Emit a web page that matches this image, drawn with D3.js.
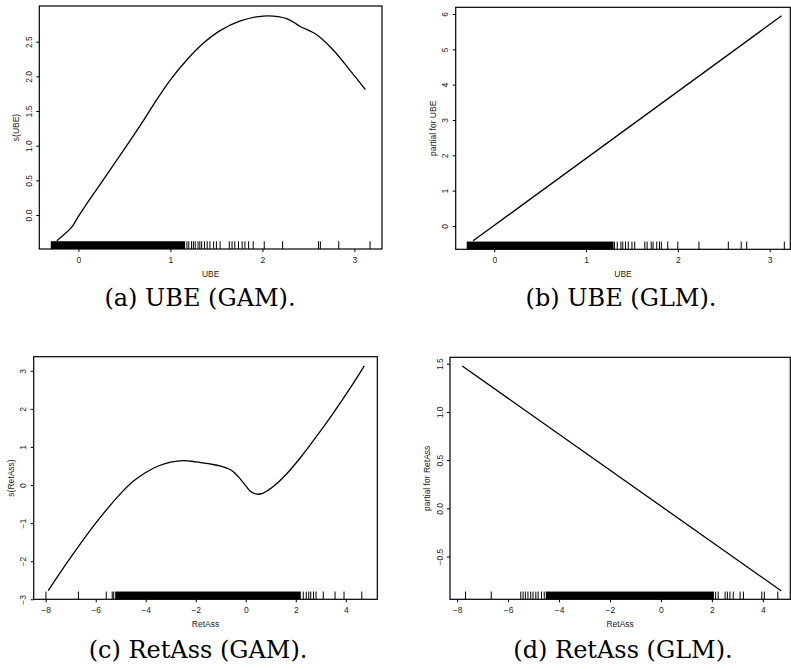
<!DOCTYPE html>
<html>
<head>
<meta charset="utf-8">
<script src="https://cdn.jsdelivr.net/npm/d3@7/dist/d3.min.js"></script>
<style>
  body { margin: 0; background: #fff; }
  svg { display: block; }
</style>
</head>
<body>
<svg id="chart" width="791" height="669"></svg>
<script>
// smooth term for UBE (GAM)
const ubeGamX = [-0.235, -0.07, 0, 0.11, 0.24, 0.38, 0.56, 0.71, 0.82, 1.0, 1.18, 1.36, 1.54, 1.76, 2.01, 2.27, 2.41, 2.59, 2.77, 2.95, 3.12];
const ubeGamY = [-0.37, -0.17, -0.02, 0.2, 0.45, 0.72, 1.07, 1.37, 1.6, 1.95, 2.24, 2.48, 2.66, 2.80, 2.87, 2.83, 2.72, 2.60, 2.38, 2.09, 1.81];

// linear term for UBE (GLM)
const ubeGlmX = [-0.23, 3.13];
const ubeGlmY = [-0.42, 5.95];

// smooth term for RetAss (GAM)
const retGamX = [-7.9, -7.0, -6.0, -5.0, -4.5, -4.0, -3.5, -3.0, -2.5, -2.0, -1.5, -1.0, -0.6, -0.3, 0.0, 0.2, 0.45, 0.7, 1.1, 1.6, 2.2, 2.8, 3.5, 4.2, 4.74];
const retGamY = [-2.77, -1.9, -1.0, -0.22, 0.1, 0.33, 0.5, 0.6, 0.64, 0.61, 0.56, 0.5, 0.4, 0.22, -0.02, -0.17, -0.24, -0.21, -0.04, 0.27, 0.73, 1.25, 1.89, 2.57, 3.13];

// linear term for RetAss (GLM)
const retGlmX = [-7.8, 4.72];
const retGlmY = [1.476, -0.855];

// rugs: solid dense stretch + single ticks outside it
const ubeBandGam = [-0.30, 1.16];
const ubeRugGam = [1.18, 1.2, 1.23, 1.25, 1.27, 1.3, 1.32, 1.34, 1.37, 1.4, 1.43, 1.47, 1.5, 1.54, 1.64, 1.67, 1.7, 1.74, 1.78, 1.81, 1.85, 1.9, 2.02, 2.22, 2.61, 2.63, 2.83, 3.17];
const ubeBandGlm = [-0.30, 1.30];
const ubeRugGlm = [1.31, 1.34, 1.38, 1.4, 1.43, 1.46, 1.5, 1.53, 1.64, 1.665, 1.71, 1.73, 1.77, 1.8, 1.82, 1.89, 2.0, 2.23, 2.55, 2.69, 2.75, 3.16];
const retBandGam = [-5.22, 2.2];
const retRugGam = [-7.99, -6.69, -5.58, -5.34, -5.28, 2.3, 2.42, 2.52, 2.6, 2.71, 2.81, 3.1, 3.57, 3.93, 4.64];
const retBandGlm = [-4.52, 2.08];
const retRugGlm = [-7.67, -6.66, -5.5, -5.41, -5.32, -5.22, -5.11, -5.02, -4.91, -4.82, -4.69, -4.58, 2.15, 2.25, 2.52, 2.61, 2.71, 2.84, 3.11, 3.24, 3.96, 4.06, 4.59];

// tick values
const ubeTicks = [0, 1, 2, 3];
const retTicks = [-8, -6, -4, -2, 0, 2, 4];
const ubeGamYTicks = [0, 0.5, 1, 1.5, 2, 2.5];
const ubeGlmYTicks = [0, 1, 2, 3, 4, 5, 6];
const retGamYTicks = [-3, -2, -1, 0, 1, 2, 3];
const retGlmYTicks = [-0.5, 0, 0.5, 1, 1.5];

const panels = [
  { box: [39.3, 6, 382, 249], xDom: [-0.425, 3.30], yDom: [-0.49, 3.015],
    xTicks: ubeTicks, yTicks: ubeGamYTicks, xFmt: "d", yFmt: ".1f",
    xLabel: "UBE", yLabel: "s(UBE)", caption: "(a) UBE (GAM).", cap: [200, 306],
    lx: ubeGamX, ly: ubeGamY, band: ubeBandGam, rug: ubeRugGam },
  { box: [455.7, 7.3, 790.3, 249.3], xDom: [-0.42, 3.225], yDom: [-0.66, 6.19],
    xTicks: ubeTicks, yTicks: ubeGlmYTicks, xFmt: "d", yFmt: "d",
    xLabel: "UBE", yLabel: "partial for UBE", caption: "(b) UBE (GLM).", cap: [621, 306],
    lx: ubeGlmX, ly: ubeGlmY, band: ubeBandGlm, rug: ubeRugGlm },
  { box: [33.7, 356.7, 377.3, 599.3], xDom: [-8.48, 5.26], yDom: [-3.0, 3.37],
    xTicks: retTicks, yTicks: retGamYTicks, xFmt: "d", yFmt: "d",
    xLabel: "RetAss", yLabel: "s(RetAss)", caption: "(c) RetAss (GAM).", cap: [198, 658],
    lx: retGamX, ly: retGamY, band: retBandGam, rug: retRugGam },
  { box: [450, 357.3, 790.3, 599.3], xDom: [-8.28, 5.08], yDom: [-0.943, 1.566],
    xTicks: retTicks, yTicks: retGlmYTicks, xFmt: "d", yFmt: ".1f",
    xLabel: "RetAss", yLabel: "partial for RetAss", caption: "(d) RetAss (GLM).", cap: [623, 658],
    lx: retGlmX, ly: retGlmY, band: retBandGlm, rug: retRugGlm }
];

const svg = d3.select("#chart");
const sans = "'Liberation Sans', Arial, sans-serif";

panels.forEach(p => {
  const [x0, y0, x1, y1] = p.box;
  const x = d3.scaleLinear().domain(p.xDom).range([x0, x1]);
  const y = d3.scaleLinear().domain(p.yDom).range([y1, y0]);
  const g = svg.append("g");
  const rugH = (y1 - y0) * 0.032;

  // rug
  g.append("rect")
    .attr("x", x(p.band[0]))
    .attr("y", y1 - rugH)
    .attr("width", x(p.band[1]) - x(p.band[0]))
    .attr("height", rugH)
    .attr("fill", "#000");
  g.selectAll(".rug")
    .data(p.rug)
    .enter().append("line")
    .attr("x1", d => x(d)).attr("x2", d => x(d))
    .attr("y1", y1).attr("y2", y1 - rugH)
    .attr("stroke", "#000")
    .attr("stroke-width", 1);

  // fitted term
  const line = d3.line()
    .x(d => x(d[0]))
    .y(d => y(d[1]))
    .curve(d3.curveCatmullRom.alpha(0.5));
  g.append("path")
    .datum(p.lx.map((v, i) => [v, p.ly[i]]))
    .attr("d", line)
    .attr("fill", "none")
    .attr("stroke", "#000")
    .attr("stroke-width", 1.3);

  // axes
  const xAxis = g.append("g")
    .attr("transform", `translate(0,${y1})`)
    .call(d3.axisBottom(x).tickValues(p.xTicks).tickFormat(d3.format(p.xFmt)).tickSize(3).tickPadding(5));
  const yAxis = g.append("g")
    .attr("transform", `translate(${x0},0)`)
    .call(d3.axisLeft(y).tickValues(p.yTicks).tickFormat(d3.format(p.yFmt)).tickSize(3));
  [xAxis, yAxis].forEach(a => {
    a.select(".domain").remove();
    a.selectAll("line").attr("stroke", "#000");
    a.selectAll("text").attr("font-family", sans).attr("font-size", 8.5).attr("fill", "#222");
  });
  yAxis.selectAll("text")
    .attr("transform", "rotate(-90)")
    .attr("x", 0).attr("y", -7.5).attr("dy", 0)
    .attr("text-anchor", "middle");

  // box
  g.append("rect")
    .attr("x", x0).attr("y", y0)
    .attr("width", x1 - x0).attr("height", y1 - y0)
    .attr("fill", "none")
    .attr("stroke", "#000")
    .attr("stroke-width", 1.2);

  // axis titles
  g.append("text")
    .attr("x", (x0 + x1) / 2).attr("y", y1 + 27.5)
    .attr("text-anchor", "middle")
    .attr("font-family", sans).attr("font-size", 8.5).attr("fill", "#222")
    .text(p.xLabel);
  g.append("text")
    .attr("transform", `translate(${x0 - 20},${(y0 + y1) / 2}) rotate(-90)`)
    .attr("text-anchor", "middle")
    .attr("font-family", sans).attr("font-size", 8.5).attr("fill", "#222")
    .text(p.yLabel);

  // caption
  svg.append("text")
    .attr("x", p.cap[0]).attr("y", p.cap[1])
    .attr("text-anchor", "middle")
    .attr("font-family", "'DejaVu Serif', serif")
    .attr("font-size", 24)
    .attr("fill", "#000")
    .text(p.caption);
});
</script>
</body>
</html>
